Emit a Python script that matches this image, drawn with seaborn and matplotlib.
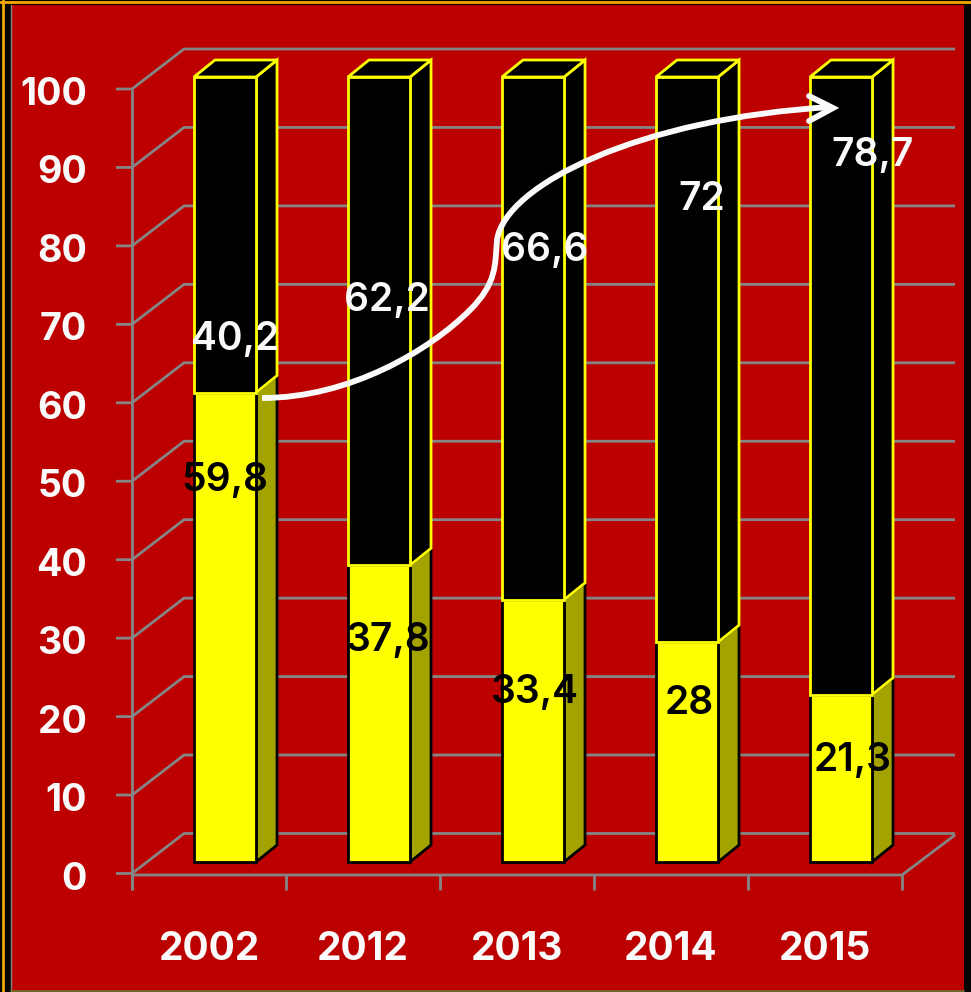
import matplotlib
matplotlib.use('Agg')
import matplotlib.pyplot as plt
import seaborn as sns
from matplotlib.patches import Polygon, Rectangle, PathPatch
from matplotlib.path import Path

years = ['2002', '2012', '2013', '2014', '2015']
yellow_vals = [59.8, 37.8, 33.4, 28, 21.3]
black_vals = [40.2, 62.2, 66.6, 72, 78.7]
yellow_labels = ['59,8', '37,8', '33,4', '28', '21,3']
black_labels = ['40,2', '62,2', '66,6', '72', '78,7']
y_ticks = [0, 10, 20, 30, 40, 50, 60, 70, 80, 90, 100]

sns.set_style('white')
plt.rcParams['font.family'] = ['Inter', 'DejaVu Sans']

RED = '#BC0000'
GREY = '#858585'
OLIVE = '#A3A300'
YELLOW = '#FFFF00'
WHITE = '#FAFAFA'

W, H = 971, 992
CAT_PX = 154.0   # pixels between two categories
VAL_PX = 7.85    # pixels per unit of value


# layout helpers, picture pixels to data coords
def cx(px):
    return (px - 225) / CAT_PX


def vy(py):
    return (862 - py) / VAL_PX


fig = plt.figure(figsize=(W / 100, H / 100), dpi=100, facecolor='#050505')
ax = fig.add_axes([0, 0, 1, 1])

# stacked bars, front faces
sns.barplot(x=years, y=yellow_vals, color=YELLOW, saturation=1, width=0.403,
            edgecolor='black', linewidth=2, ax=ax)
sns.barplot(x=years, y=black_vals, bottom=yellow_vals, color='black', saturation=1,
            width=0.403, edgecolor=YELLOW, linewidth=2, ax=ax)

ax.set_xlim(cx(0), cx(W))
ax.set_ylim(vy(H), vy(0))
ax.set_axis_off()

# background and frame
ax.add_patch(Rectangle((cx(11), vy(990)), (964 - 11) / CAT_PX, 985 / VAL_PX,
                       fc=RED, ec='none', zorder=0))
ax.plot([cx(10.5)] * 2, [vy(5), vy(990)], color=GREY, lw=1, zorder=0.2)
ax.plot([cx(3)] * 2, [vy(0), vy(H)], color='#F5A800', lw=2, zorder=0.2)
ax.plot([cx(0), cx(W)], [vy(2)] * 2, color='#F5A800', lw=2, zorder=0.2)
ax.plot([cx(11), cx(964)], [vy(990.5)] * 2, color='#8A7A30', lw=1.2, zorder=0.2)

# the box behind the bars
grid_kw = dict(color=GREY, lw=2, zorder=0.5, solid_capstyle='butt')
for v in y_ticks:
    fy = 873.5 - 7.845 * v
    ax.plot([cx(116), cx(132), cx(184), cx(955)],
            [vy(fy), vy(fy), vy(fy - 40), vy(fy - 40)], **grid_kw)
    ax.text(cx(87), vy(fy + 6), str(v), ha='right', va='center', color=WHITE,
            fontsize=27, fontweight='bold', zorder=6)
ax.plot([cx(132), cx(132)], [vy(89), vy(890)], **grid_kw)
ax.plot([cx(132), cx(902), cx(955)], [vy(875), vy(875), vy(835)], **grid_kw)
for i in range(6):
    ax.plot([cx(132 + i * CAT_PX)] * 2, [vy(875), vy(890)], **grid_kw)

# side and top faces of every bar, from the drawn rectangles
dx, dy = 21 / CAT_PX, 17 / VAL_PX
n = len(years)
for i, bar in enumerate(ax.patches[:2 * n]):
    x0, y0, w, h = bar.get_x(), bar.get_y(), bar.get_width(), bar.get_height()
    x1, y1 = x0 + w, y0 + h
    is_yellow = i < n
    bar.set_zorder(3 if is_yellow else 3.5)
    side = [(x1, y0), (x1 + dx, y0 + dy), (x1 + dx, y1 + dy), (x1, y1)]
    ax.add_patch(Polygon(side, closed=True, fc=OLIVE if is_yellow else 'black',
                         ec='black' if is_yellow else YELLOW, lw=2,
                         zorder=2 if is_yellow else 2.5))
    if not is_yellow:
        top = [(x0, y1), (x0 + dx, y1 + dy), (x1 + dx, y1 + dy), (x1, y1)]
        ax.add_patch(Polygon(top, closed=True, fc='black', ec=YELLOW, lw=2, zorder=2.5))

# category labels
for i, year in enumerate(years):
    ax.text(i + cx(209), vy(950), year, ha='center', va='center', color=WHITE,
            fontsize=28, fontweight='bold', zorder=6)

# value labels
yellow_pos = [(225, 481), (388, 640), (535, 692), (689, 703), (853, 760)]
black_pos = [(235, 340), (387, 301), (545, 250), (702, 200), (873, 156)]
for label, (px, py) in zip(yellow_labels, yellow_pos):
    ax.text(cx(px), vy(py), label, ha='center', va='center', color='black',
            fontsize=28, fontweight='semibold', zorder=6)
for label, (px, py) in zip(black_labels, black_pos):
    ax.text(cx(px), vy(py), label, ha='center', va='center', color=WHITE,
            fontsize=28, fontweight='semibold', zorder=6)

# white trend arrow
curve_px = [(262, 398), (350, 398), (430, 350), (470, 310), (497, 283), (495, 265),
            (497, 240), (505, 185), (640, 118), (832, 107)]
codes = [Path.MOVETO] + [Path.CURVE4] * 9
ax.add_patch(PathPatch(Path([(cx(a), vy(b)) for a, b in curve_px], codes), fc='none',
                       ec=WHITE, lw=4.2, capstyle='butt', zorder=7))
head_px = [(809, 96), (833, 108), (809, 121)]
ax.plot([cx(a) for a, b in head_px], [vy(b) for a, b in head_px], color=WHITE, lw=4.2,
        solid_joinstyle='miter', zorder=7)

fig.savefig('out.png', dpi=100, facecolor=fig.get_facecolor())
plt.close(fig)
